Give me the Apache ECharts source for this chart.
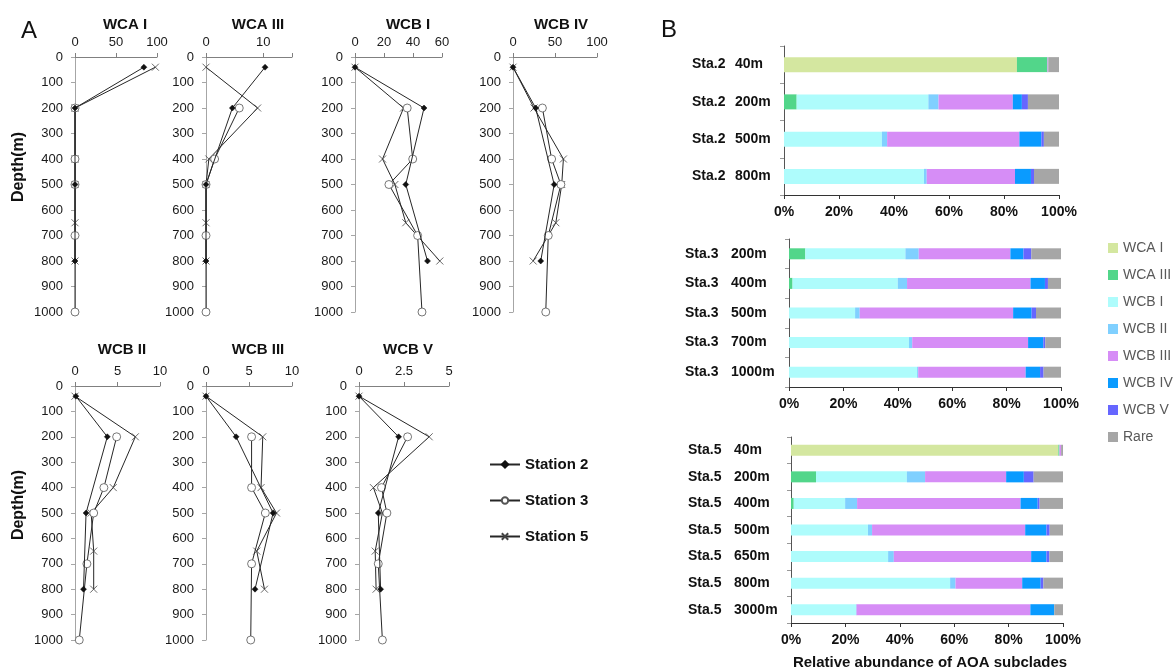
<!DOCTYPE html>
<html><head><meta charset="utf-8">
<script src="https://cdn.jsdelivr.net/npm/echarts@6/dist/echarts.min.js"></script>
<style>html,body{margin:0;padding:0;background:#fff}#c{width:1174px;height:672px}</style>
</head><body><div id="c"></div>
<script>
// ---------- DATA: Panel A (relative abundance %, by depth) ----------
const depthS2 = [40, 200, 500, 800];
const depthS3 = [200, 400, 500, 700, 1000];
const depthS5 = [40, 200, 400, 500, 650, 800];
const depthTickLabels = [0, 100, 200, 300, 400, 500, 600, 700, 800, 900, 1000];

const wcaI_s2 = [84, 0, 0, 0];
const wcaI_s3 = [0, 0, 0, 0, 0];
const wcaI_s5 = [98, 0, 0, 0, 0, 0];

const wcaIII_s2 = [10.3, 4.6, 0, 0];
const wcaIII_s3 = [5.8, 1.5, 0, 0, 0];
const wcaIII_s5 = [0, 9.0, 0.5, 0, 0, 0];

const wcbI_s2 = [0, 47.6, 35, 50];
const wcbI_s3 = [36, 39.8, 23.4, 43.2, 46.2];
const wcbI_s5 = [0, 33.5, 19, 27.5, 35, 58.5];

const wcbIV_s2 = [0, 27, 49, 33];
const wcbIV_s3 = [35, 46, 57, 42, 39];
const wcbIV_s5 = [0, 25, 60, 58, 51, 24];

const wcbII_s2 = [0.1, 3.8, 1.3, 1.0];
const wcbII_s3 = [4.9, 3.4, 2.2, 1.4, 0.5];
const wcbII_s5 = [0, 7.1, 4.5, 1.9, 2.2, 2.2];

const wcbIII_s2 = [0, 3.5, 7.8, 5.7];
const wcbIII_s3 = [5.3, 5.3, 6.9, 5.3, 5.2];
const wcbIII_s5 = [0, 6.6, 6.4, 8.2, 5.9, 6.8];

const wcbV_s2 = [0, 2.2, 1.07, 1.2];
const wcbV_s3 = [2.7, 1.25, 1.55, 1.07, 1.3];
const wcbV_s5 = [0, 3.9, 0.8, 1.3, 0.9, 0.95];

// ---------- DATA: Panel B (stacked %, per station) ----------
const subclades = ['WCA I', 'WCA III', 'WCB I', 'WCB II', 'WCB III', 'WCB IV', 'WCB V', 'Rare'];

const sta2Cats = ['40m', '200m', '500m', '800m'];
const sta2_wcaI   = [84.7, 0, 0, 0];
const sta2_wcaIII = [11.1, 4.6, 0, 0];
const sta2_wcbI   = [0, 47.9, 35.6, 50.9];
const sta2_wcbII  = [0, 3.7, 1.9, 1.0];
const sta2_wcbIII = [0.3, 27.0, 48.1, 32.1];
const sta2_wcbIV  = [0, 3.3, 8.0, 5.8];
const sta2_wcbV   = [0, 2.2, 0.9, 1.1];
const sta2_rare   = [3.9, 11.3, 5.5, 9.1];

const sta3Cats = ['200m', '400m', '500m', '700m', '1000m'];
const sta3_wcaI   = [0, 0, 0, 0, 0];
const sta3_wcaIII = [6.0, 1.3, 0, 0, 0];
const sta3_wcbI   = [36.8, 38.7, 24.3, 44.1, 47.1];
const sta3_wcbII  = [4.9, 3.4, 1.7, 1.2, 0.4];
const sta3_wcbIII = [33.7, 45.4, 56.4, 42.6, 39.5];
const sta3_wcbIV  = [4.8, 5.3, 6.8, 5.6, 5.3];
const sta3_wcbV   = [2.9, 1.1, 1.6, 0.7, 1.3];
const sta3_rare   = [10.9, 4.8, 9.2, 5.8, 6.4];

const sta5Cats = ['40m', '200m', '400m', '500m', '650m', '800m', '3000m'];
const sta5_wcaI   = [98.3, 0, 0, 0, 0, 0, 0];
const sta5_wcaIII = [0.4, 9.2, 1.0, 0, 0, 0, 0];
const sta5_wcbI   = [0, 33.4, 18.9, 28.3, 35.7, 58.5, 23.9];
const sta5_wcbII  = [0, 6.7, 4.4, 1.5, 2.1, 2.0, 0.2];
const sta5_wcbIII = [0.6, 29.8, 60.1, 56.3, 50.5, 24.5, 63.9];
const sta5_wcbIV  = [0, 6.5, 6.3, 7.8, 5.6, 6.8, 8.8];
const sta5_wcbV   = [0, 3.6, 0.7, 1.2, 1.1, 1.0, 0];
const sta5_rare   = [0.7, 10.8, 8.6, 4.9, 5.0, 7.2, 3.2];

// ---------- STYLE / LAYOUT ----------
const FONT = "'Liberation Sans', Arial, Helvetica, sans-serif";
const colors = ['#d4e7a0', '#52d68a', '#aefcfc', '#80d0ff', '#d68df6', '#0a9bff', '#6666ff', '#a6a6a6'];
const CROSS = 'path://M0,0L10,10M10,0L0,10';

const stations = [
  { name: 'Station 2', depths: depthS2, symbol: 'diamond', size: 6, fill: '#111', stroke: '#111', bw: 0.5 },
  { name: 'Station 3', depths: depthS3, symbol: 'circle', size: 8, fill: '#fff', stroke: '#555', bw: 0.8 },
  { name: 'Station 5', depths: depthS5, symbol: CROSS, size: 7, fill: '#444', stroke: '#444', bw: 0.8 }
];

const linePanels = [
  { title: 'WCA I',   vals: [wcaI_s2, wcaI_s3, wcaI_s5],     max: 100, interval: 50,  left: 75,  top: 57,  width: 82, tx: 125, ty: 25 },
  { title: 'WCA III', vals: [wcaIII_s2, wcaIII_s3, wcaIII_s5], max: 15, interval: 10, left: 206, top: 57,  width: 86, tx: 258, ty: 25 },
  { title: 'WCB I',   vals: [wcbI_s2, wcbI_s3, wcbI_s5],     max: 60,  interval: 20,  left: 355, top: 57,  width: 87, tx: 408, ty: 25 },
  { title: 'WCB IV',  vals: [wcbIV_s2, wcbIV_s3, wcbIV_s5],  max: 100, interval: 50,  left: 513, top: 57,  width: 84, tx: 561, ty: 25 },
  { title: 'WCB II',  vals: [wcbII_s2, wcbII_s3, wcbII_s5],  max: 10,  interval: 5,   left: 75,  top: 386, width: 85, tx: 122, ty: 350 },
  { title: 'WCB III', vals: [wcbIII_s2, wcbIII_s3, wcbIII_s5], max: 10, interval: 5,  left: 206, top: 386, width: 86, tx: 258, ty: 350 },
  { title: 'WCB V',   vals: [wcbV_s2, wcbV_s3, wcbV_s5],     max: 5,   interval: 2.5, left: 359, top: 386, width: 90, tx: 408, ty: 350 }
];

const barPanels = [
  { sta: 'Sta.2', cats: sta2Cats, vals: [sta2_wcaI, sta2_wcaIII, sta2_wcbI, sta2_wcbII, sta2_wcbIII, sta2_wcbIV, sta2_wcbV, sta2_rare],
    left: 784, top: 46, width: 275, height: 149, barWidth: 15, wa: 43, wb: 41 },
  { sta: 'Sta.3', cats: sta3Cats, vals: [sta3_wcaI, sta3_wcaIII, sta3_wcbI, sta3_wcbII, sta3_wcbIII, sta3_wcbIV, sta3_wcbV, sta3_rare],
    left: 789, top: 239, width: 272, height: 148, barWidth: 11, wa: 46, wb: 50 },
  { sta: 'Sta.5', cats: sta5Cats, vals: [sta5_wcaI, sta5_wcaIII, sta5_wcbI, sta5_wcbII, sta5_wcbIII, sta5_wcbIV, sta5_wcbV, sta5_rare],
    left: 791, top: 437, width: 272, height: 186, barWidth: 11, wa: 46, wb: 49 }
];

const grid = [], xAxis = [], yAxis = [], series = [], graphic = [];

linePanels.forEach((p, i) => {
  grid.push({ left: p.left, top: p.top, width: p.width, height: p.top < 100 ? 255 : 254, containLabel: false });
  xAxis.push({
    type: 'value', gridIndex: i, position: 'top', min: 0, max: p.max, interval: p.interval,
    axisLine: { show: true, onZero: false, lineStyle: { color: '#808080', width: 1 } },
    axisTick: { show: true, length: 4, lineStyle: { color: '#808080' } },
    axisLabel: { fontFamily: FONT, fontSize: 13, color: '#1a1a1a', margin: 8,
      formatter: v => (v % p.interval === 0 ? String(v) : '') },
    splitLine: { show: false }
  });
  yAxis.push({
    type: 'value', gridIndex: i, inverse: true, min: 0, max: 1000, interval: 100,
    axisLine: { show: true, onZero: false, lineStyle: { color: '#a6a6a6', width: 1 } },
    axisTick: { show: true, length: 4, lineStyle: { color: '#a6a6a6' } },
    axisLabel: { fontFamily: FONT, fontSize: 13, color: '#1a1a1a', margin: 12,
      formatter: v => (depthTickLabels.indexOf(v) >= 0 ? String(v) : '') },
    splitLine: { show: false }
  });
  stations.forEach((st, k) => {
    series.push({
      type: 'line', name: st.name, xAxisIndex: i, yAxisIndex: i, clip: false,
      data: st.depths.map((d, j) => [p.vals[k][j], d]),
      symbol: st.symbol, symbolSize: st.size,
      lineStyle: { color: '#262626', width: 1 },
      itemStyle: { color: st.fill, borderColor: st.stroke, borderWidth: st.bw },
      emphasis: { disabled: true }, animation: false, z: 3 - k
    });
  });
  graphic.push({ type: 'text', x: p.tx, y: p.ty,
    style: { text: p.title, font: 'bold 15px ' + FONT, fill: '#111', textAlign: 'center', textVerticalAlign: 'middle' } });
});

const n = linePanels.length;
barPanels.forEach((b, bi) => {
  const gi = n + bi;
  grid.push({ left: b.left, top: b.top, width: b.width, height: b.height });
  xAxis.push({
    type: 'value', gridIndex: gi, min: 0, max: 100, interval: 20,
    axisLine: { show: true, lineStyle: { color: '#333', width: 1 } },
    axisTick: { show: true, length: 4, lineStyle: { color: '#333' } },
    axisLabel: { fontFamily: FONT, fontSize: 14, fontWeight: 'bold', color: '#111', margin: 10, formatter: '{value}%' },
    splitLine: { show: false }
  });
  yAxis.push({
    type: 'category', gridIndex: gi, inverse: true, data: b.cats,
    axisLine: { show: true, lineStyle: { color: '#555', width: 1 } },
    axisTick: { show: true, length: 4, lineStyle: { color: '#999' } },
    axisLabel: {
      margin: 8, color: '#111',
      formatter: v => '{a|' + b.sta + '}{b|' + v + '}',
      rich: {
        a: { fontFamily: FONT, fontSize: 14, fontWeight: 'bold', color: '#111', width: b.wa, align: 'left' },
        b: { fontFamily: FONT, fontSize: 14, fontWeight: 'bold', color: '#111', width: b.wb, align: 'left' }
      }
    }
  });
  subclades.forEach((name, k) => {
    series.push({
      type: 'bar', name: name, xAxisIndex: gi, yAxisIndex: gi, stack: 'st' + bi,
      data: b.vals[k], barWidth: b.barWidth,
      itemStyle: { color: colors[k] }, emphasis: { disabled: true }, animation: false
    });
  });
});

graphic.push(
  { type: 'text', x: 21, y: 31, style: { text: 'A', font: '24px ' + FONT, fill: '#111', textVerticalAlign: 'middle' } },
  { type: 'text', x: 661, y: 30, style: { text: 'B', font: '24px ' + FONT, fill: '#111', textVerticalAlign: 'middle' } },
  { type: 'text', x: 19, y: 167, rotation: Math.PI / 2,
    style: { text: 'Depth(m)', font: 'bold 16px ' + FONT, fill: '#111', textAlign: 'center', textVerticalAlign: 'middle' } },
  { type: 'text', x: 19, y: 505, rotation: Math.PI / 2,
    style: { text: 'Depth(m)', font: 'bold 16px ' + FONT, fill: '#111', textAlign: 'center', textVerticalAlign: 'middle' } },
  { type: 'text', x: 930, y: 663,
    style: { text: 'Relative abundance of AOA subclades', font: 'bold 15px ' + FONT, fill: '#111', textAlign: 'center', textVerticalAlign: 'middle' } }
);

const chart = echarts.init(document.getElementById('c'), null, { renderer: 'canvas' });
chart.setOption({
  backgroundColor: '#fff',
  animation: false,
  grid, xAxis, yAxis, series, graphic,
  legend: [
    { data: stations.map(s => s.name), orient: 'vertical', left: 489, top: 457, padding: 0, itemWidth: 30, itemHeight: 8, itemGap: 21,
      selectedMode: false, textStyle: { fontFamily: FONT, fontSize: 15, fontWeight: 'bold', color: '#111' } },
    { data: subclades, orient: 'vertical', left: 1108, top: 241, padding: 0, itemWidth: 10, itemHeight: 10, itemGap: 13, icon: 'rect',
      selectedMode: false, textStyle: { fontFamily: FONT, fontSize: 14, color: '#595959' } }
  ]
});
</script>
</body></html>
